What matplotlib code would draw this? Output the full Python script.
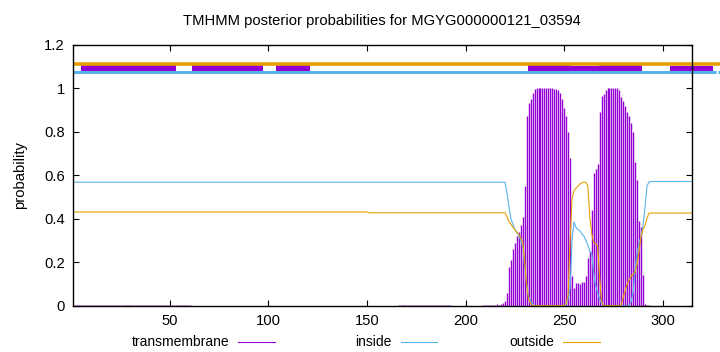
import numpy as np
import matplotlib
matplotlib.use("Agg")
import matplotlib.pyplot as plt
from matplotlib.lines import Line2D
from matplotlib.patches import Rectangle

plt.rcParams["font.family"] = ["Liberation Sans", "DejaVu Sans"]

# sequence / data
seq_len = 315
title = "TMHMM posterior probabilities for MGYG000000121_03594"

# transmembrane posterior per residue
tm_prob = (
    [0.002] * 60 + [0.0] * 105 + [0.004] * 27 + [0.0] * 16
    + [0.002, 0.002, 0.003, 0.003, 0.004, 0.004, 0.005, 0.006]
    + [0.005, 0.008, 0.012, 0.02, 0.06]
    + [0.18, 0.21, 0.26, 0.29, 0.32, 0.34, 0.37, 0.41, 0.55]
    + [0.87, 0.93, 0.95, 0.98]
    + [0.998, 1.0, 1.0, 1.0, 1.0, 1.0, 1.0, 1.0, 1.0, 1.0, 0.998]
    + [0.995, 0.99, 0.98, 0.95, 0.91, 0.87, 0.80, 0.68]
    + [0.136, 0.08, 0.105, 0.105, 0.10, 0.11, 0.11, 0.135, 0.22, 0.25]
    + [0.44, 0.61, 0.63, 0.65, 0.89, 0.963, 0.975, 0.99]
    + [1.0, 1.0, 1.0, 1.0, 1.0, 1.0]
    + [0.99, 0.96, 0.94, 0.92, 0.89, 0.87, 0.84, 0.80, 0.66, 0.58]
    + [0.39, 0.36, 0.14, 0.01, 0.003, 0.002]
    + [0.0] * 22
)

inside_prob = (
    [0.568] * 219
    + [0.567, 0.52, 0.455, 0.40, 0.375, 0.35, 0.34, 0.32, 0.30, 0.27]
    + [0.18, 0.10, 0.04, 0.02, 0.01]
    + [0.0] * 16
    + [0.005, 0.03, 0.08, 0.30, 0.385, 0.36, 0.35, 0.345, 0.33, 0.32]
    + [0.30, 0.28, 0.25, 0.24, 0.15, 0.09, 0.06, 0.03, 0.01]
    + [0.0] * 14
    + [0.02, 0.06, 0.17, 0.24, 0.29, 0.32, 0.37, 0.45, 0.55, 0.568]
    + [0.571] * 22
)

outside_prob = (
    [0.431] * 150 + [0.427] * 69
    + [0.427, 0.41, 0.386, 0.375, 0.36, 0.35, 0.335, 0.33, 0.31, 0.29]
    + [0.20, 0.09, 0.03, 0.01]
    + [0.0] * 17
    + [0.01, 0.05, 0.30, 0.49, 0.53, 0.54, 0.55, 0.56, 0.565, 0.568]
    + [0.567, 0.55, 0.41, 0.33, 0.29, 0.285, 0.275, 0.13, 0.02]
    + [0.0] * 9
    + [0.005, 0.04, 0.07, 0.10, 0.12, 0.135, 0.145, 0.155, 0.19, 0.25]
    + [0.32, 0.35, 0.37, 0.40, 0.425]
    + [0.426] * 22
)

# top annotation strip (segment start, end)
top_tm_segments = [(5, 53), (61, 97), (104, 121)]
top_tm_wide = [(231.5, 253.4), (267.6, 289.5)]
top_tm_link = [(253.4, 267.6)]
top_tm_right = [(303.8, 325.5)]

residues = np.arange(1, seq_len + 1)
tm = np.array(tm_prob)
inside = np.array(inside_prob)
outside = np.array(outside_prob)

c_tm = "#9400d3"
c_in = "#56b4e9"
c_out = "#e69f00"

fig = plt.figure(figsize=(7.2, 3.52), dpi=100)
ax = fig.add_axes([0.1018, 0.1315, 0.8597, 0.7415])

ax.vlines(residues, 0, tm, color=c_tm, lw=1.0)
ax.plot(residues, inside, color=c_in, lw=0.8)
ax.plot(residues, outside, color=c_out, lw=0.8)

# top strip
ax.plot([1, 330], [1.111, 1.111], color=c_out, lw=2.6, clip_on=False,
        solid_capstyle="butt")
ax.plot([1, 326.8], [1.0745, 1.0745], color=c_in, lw=2.2, clip_on=False,
        solid_capstyle="butt")
ax.plot([328.2, 330], [1.0745, 1.0745], color=c_in, lw=2.2, clip_on=False,
        solid_capstyle="butt")
for a, b in top_tm_segments:
    ax.add_patch(Rectangle((a, 1.079), b - a, 0.028, color=c_tm,
                           lw=0, clip_on=False))
for a, b in top_tm_wide:
    ax.add_patch(Rectangle((a, 1.069), b - a, 0.047, color=c_tm,
                           lw=0, clip_on=False))
for a, b in top_tm_link:
    ax.add_patch(Rectangle((a, 1.069), b - a, 0.033, color=c_tm,
                           lw=0, clip_on=False))
for a, b in top_tm_right:
    ax.add_patch(Rectangle((a, 1.079), b - a, 0.023, color=c_tm,
                           lw=0, clip_on=False))
    ax.add_patch(Rectangle((b - 1.5, 1.069), 1.5, 0.012, color=c_tm,
                           lw=0, clip_on=False))

ax.set_xlim(1, seq_len)
ax.set_ylim(0, 1.2)
ax.set_xticks([50, 100, 150, 200, 250, 300])
ax.set_yticks([0, 0.2, 0.4, 0.6, 0.8, 1.0, 1.2])
ax.set_yticklabels(["0", "0.2", "0.4", "0.6", "0.8", "1", "1.2"])
ax.tick_params(direction="in", length=4, width=0.8, top=True, right=True,
               labelsize=10.6, pad=6, colors="black")
for s in ax.spines.values():
    s.set_linewidth(1.0)
    s.set_color("black")

ax.set_ylabel("probability", fontsize=10.6, labelpad=12)
fig.text(0.53, 0.941, title, ha="center", va="center", fontsize=10.6)

# legend row under the plot
leg = [("transmembrane", c_tm, 229.5, 238, 275),
       ("inside", c_in, 391.5, 401, 437),
       ("outside", c_out, 554, 563, 600)]
ly = 1 - 341.7 / 352
for name, col, tx, x0, x1 in leg:
    fig.text(tx / 720, ly, name, ha="right", va="center", fontsize=10)
    fig.add_artist(Line2D([x0 / 720, x1 / 720], [ly, ly], color=col, lw=0.8,
                          transform=fig.transFigure))

fig.savefig("out.png", dpi=100)
